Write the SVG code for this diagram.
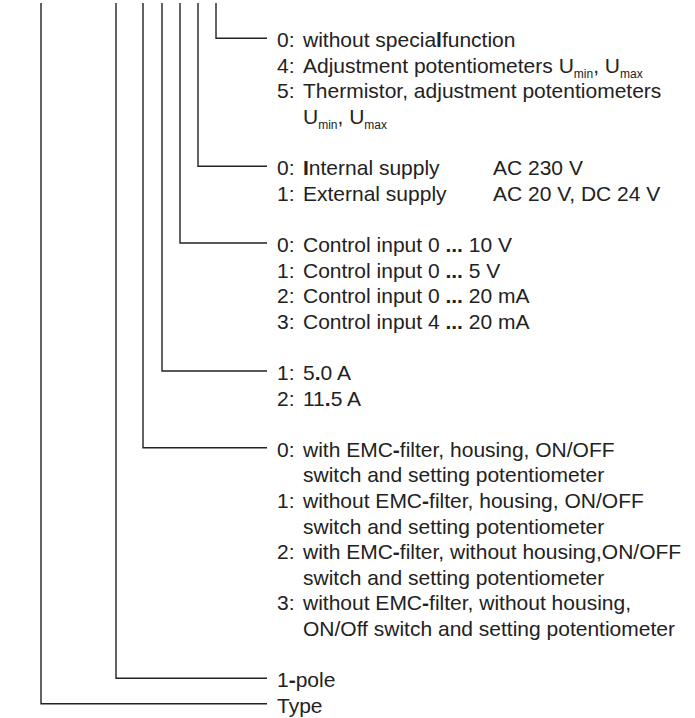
<svg xmlns="http://www.w3.org/2000/svg" width="695" height="718" viewBox="0 0 695 718">
<style>
  .ln { fill: none; stroke: #222; stroke-width: 1.4; }
  text { font-family: "Liberation Sans", Arial, sans-serif; font-size: 21px; fill: #222; }
  .sub { font-size: 12px; }
  .b { font-weight: bold; }
</style>
<rect width="695" height="718" fill="#fff"/>
<g id="connectors">
  <path class="ln" d="M216,3 V38.2 H267"/>
  <path class="ln" d="M198,3 V166.2 H267"/>
  <path class="ln" d="M180,3 V243 H267"/>
  <path class="ln" d="M162,3 V371 H267"/>
  <path class="ln" d="M143,3 V447.8 H267"/>
  <path class="ln" d="M116,3 V678.2 H267"/>
  <path class="ln" d="M41,3 V703.8 H267"/>
</g>
<g id="special-function">
  <text x="277" y="47.2">0:</text><text x="303" y="47.2">without specia<tspan class="b">l</tspan>function</text>
  <text x="277" y="72.8">4:</text><text x="303" y="72.8">Adjustment potentiometers U<tspan class="sub" dy="5">min</tspan><tspan dy="-5">, U</tspan><tspan class="sub" dy="5">max</tspan></text>
  <text x="277" y="98.4">5:</text><text x="303" y="98.4">Thermistor, adjustment potentiometers</text>
  <text x="303" y="124">U<tspan class="sub" dy="5">min</tspan><tspan dy="-5">, U</tspan><tspan class="sub" dy="5">max</tspan></text>
</g>
<g id="supply">
  <text x="277" y="175.2">0:</text><text x="303" y="175.2"><tspan class="b">I</tspan>nternal supply</text><text x="493" y="175.2">AC 230 V</text>
  <text x="277" y="200.8">1:</text><text x="303" y="200.8">External supply</text><text x="493" y="200.8">AC 20 V, DC 24 V</text>
</g>
<g id="control-input">
  <text x="277" y="252">0:</text><text x="303" y="252">Control input 0 <tspan class="b">...</tspan> 10 V</text>
  <text x="277" y="277.6">1:</text><text x="303" y="277.6">Control input 0 <tspan class="b">...</tspan> 5 V</text>
  <text x="277" y="303.2">2:</text><text x="303" y="303.2">Control input 0 <tspan class="b">...</tspan> 20 mA</text>
  <text x="277" y="328.8">3:</text><text x="303" y="328.8">Control input 4 <tspan class="b">...</tspan> 20 mA</text>
</g>
<g id="current">
  <text x="277" y="380">1:</text><text x="303" y="380">5<tspan class="b">.</tspan>0 A</text>
  <text x="277" y="405.6">2:</text><text x="303" y="405.6">11<tspan class="b">.</tspan>5 A</text>
</g>
<g id="version">
  <text x="277" y="456.8">0:</text><text x="303" y="456.8">with EMC<tspan class="b">-</tspan>filter, housing, ON/OFF</text>
  <text x="303" y="482.4">switch and setting potentiometer</text>
  <text x="277" y="508">1:</text><text x="303" y="508">without EMC<tspan class="b">-</tspan>filter, housing, ON/OFF</text>
  <text x="303" y="533.6">switch and setting potentiometer</text>
  <text x="277" y="559.2">2:</text><text x="303" y="559.2">with EMC<tspan class="b">-</tspan>filter, without housing,ON/OFF</text>
  <text x="303" y="584.8">switch and setting potentiometer</text>
  <text x="277" y="610.4">3:</text><text x="303" y="610.4">without EMC<tspan class="b">-</tspan>filter, without housing,</text>
  <text x="303" y="636">ON/Off switch and setting potentiometer</text>
</g>
<g id="poles">
  <text x="277" y="687.2">1<tspan class="b">-</tspan>pole</text>
</g>
<g id="type">
  <text x="277" y="712.8">Type</text>
</g>
</svg>
